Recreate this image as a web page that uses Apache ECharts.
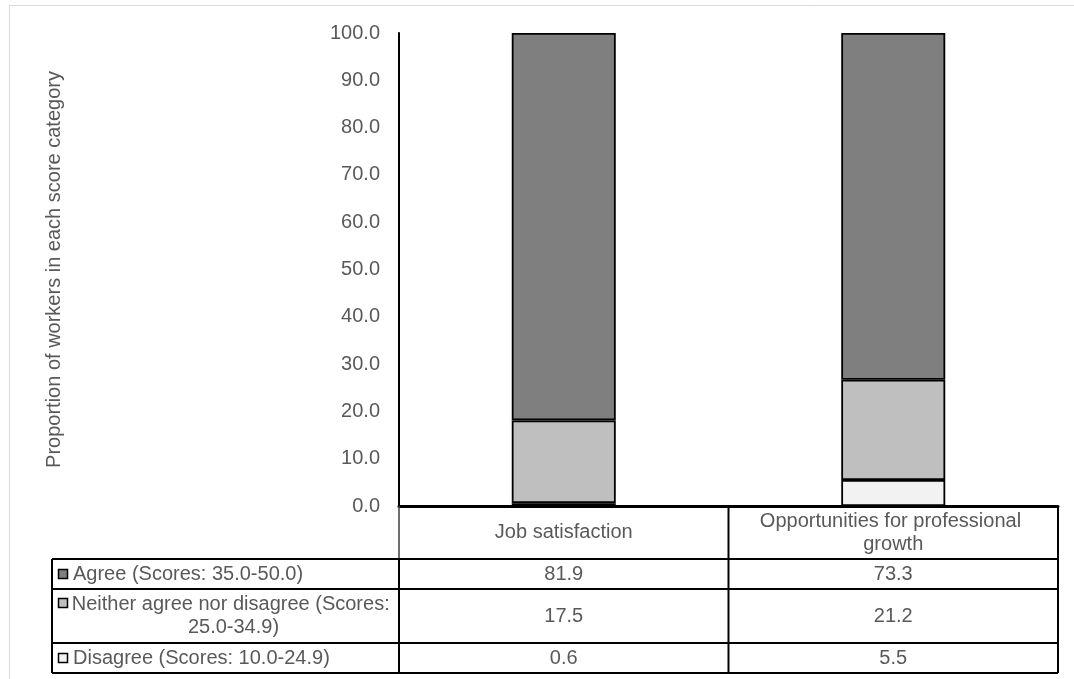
<!DOCTYPE html>
<html>
<head>
<meta charset="utf-8">
<script src="https://cdn.jsdelivr.net/npm/echarts@6/dist/echarts.min.js"></script>
<style>
  html, body { margin: 0; padding: 0; background: #ffffff; }
  #chart { width: 1074px; height: 679px; }
</style>
</head>
<body>
<div id="chart"></div>
<script>
// Categories along the x axis (also the data-table header)
const categories = ['Job satisfaction', 'Opportunities for professional growth'];

// Score groups, listed as they appear in the data table (top to bottom)
const seriesNames = [
  'Agree (Scores: 35.0-50.0)',
  'Neither agree nor disagree (Scores: 25.0-34.9)',
  'Disagree (Scores: 10.0-24.9)'
];

// Proportion of workers (%) in each score category
const agreeValues    = [81.9, 73.3];
const neitherValues  = [17.5, 21.2];
const disagreeValues = [0.6, 5.5];

// Value-axis ticks
const yTickMin = 0;
const yTickMax = 100;
const yTickStep = 10;

const yAxisTitle = 'Proportion of workers in each score category';

// Fill colours for each score group
const fills = ['#7f7f7f', '#bfbfbf', '#f2f2f2'];
const rowValues = [agreeValues, neitherValues, disagreeValues];

// Layout (pixels)
const FONT = '"Liberation Sans", Arial, sans-serif';
const TEXT = '#595959';
const plotLeft = 399, plotRight = 1058, plotTop = 33, axisY = 506;
const tableLeft = 52;
const rowEdges = [559, 589, 643, 673];   // bottom of header, then bottom of each row
const keyX = 58, labelX = 73, labelWrap = 325;

const chart = echarts.init(document.getElementById('chart'), null, { renderer: 'canvas' });

// stacking order from the baseline up: disagree, neither, agree
const stackOrder = [2, 1, 0];
const series = stackOrder.map(i => ({
  name: seriesNames[i],
  type: 'bar',
  stack: 'total',
  barWidth: 104,
  data: rowValues[i],
  itemStyle: { color: fills[i], borderColor: '#000000', borderWidth: 1.8 },
  emphasis: { disabled: true },
  animation: false
}));

chart.setOption({
  animation: false,
  grid: { left: plotLeft, right: 1074 - plotRight, top: plotTop, bottom: 679 - axisY, containLabel: false },
  xAxis: {
    type: 'category',
    data: categories,
    axisLine: { show: true, lineStyle: { color: '#000000', width: 3 } },
    axisTick: { show: false },
    axisLabel: { show: false },
    splitLine: { show: false }
  },
  yAxis: {
    type: 'value',
    min: yTickMin,
    max: yTickMax,
    interval: yTickStep,
    name: yAxisTitle,
    nameLocation: 'middle',
    nameGap: 335,
    nameTextStyle: { fontFamily: FONT, fontSize: 20, color: TEXT },
    axisLine: { show: true, lineStyle: { color: '#000000', width: 2 } },
    axisTick: { show: false },
    splitLine: { show: false },
    axisLabel: {
      fontFamily: FONT, fontSize: 20, color: TEXT, margin: 19,
      formatter: v => v.toFixed(1)
    }
  },
  series: series
});

// ---- Data table under the plot, drawn with graphic elements ----
const measure = document.createElement('canvas').getContext('2d');
measure.font = '20px ' + FONT;

function hline(y, x1, x2, w, c) {
  return { type: 'line', silent: true, z: 100,
    shape: { x1: x1, y1: y, x2: x2, y2: y },
    style: { stroke: c || '#000000', lineWidth: w || 2 } };
}
function vline(x, y1, y2, w, c) {
  return { type: 'line', silent: true, z: 100,
    shape: { x1: x, y1: y1, x2: x, y2: y2 },
    style: { stroke: c || '#000000', lineWidth: w || 2 } };
}
function cellText(str, x, y, align, width) {
  const st = {
    text: str, x: x, y: y, fill: TEXT, font: '20px ' + FONT,
    align: align || 'center', verticalAlign: 'middle', lineHeight: 23
  };
  if (width) { st.width = width; st.overflow = 'break'; }
  return { type: 'text', silent: true, z: 101, style: st };
}

const g = [];
// outer chart frame
g.push({ type: 'rect', silent: true, z: 0,
  shape: { x: 9.5, y: 5.5, width: 1200, height: 800 },
  style: { fill: 'none', stroke: '#d9d9d9', lineWidth: 1 } });

// column separators
const colEdges = [plotLeft, (plotLeft + plotRight) / 2, plotRight];
g.push(vline(colEdges[0], axisY, rowEdges[0], 1.5, '#3f3f3f'));
g.push(vline(colEdges[0], rowEdges[0], rowEdges[3]));
g.push(vline(colEdges[1], axisY, rowEdges[3]));
g.push(vline(colEdges[2], axisY, rowEdges[3]));
g.push(vline(tableLeft, rowEdges[0], rowEdges[3]));
// row separators
rowEdges.forEach(y => g.push(hline(y, tableLeft, plotRight)));

// header: category names centred under each bar
categories.forEach((c, i) => {
  const cx = chart.convertToPixel({ xAxisIndex: 0 }, i);
  g.push(cellText(c, cx, (axisY + rowEdges[0]) / 2, 'center', 310));
});

// rows: legend key, series label, values
const rowTops = [rowEdges[0], rowEdges[1], rowEdges[2]];
seriesNames.forEach((name, r) => {
  const top = rowTops[r], bottom = rowEdges[r + 1];
  const cy = (top + bottom) / 2;
  const wraps = measure.measureText(name).width > labelWrap;
  const firstLineY = wraps ? top + 14 : cy;
  g.push({ type: 'rect', silent: true, z: 101,
    shape: { x: keyX + 0.5, y: firstLineY - 4.5, width: 9, height: 9 },
    style: { fill: fills[r], stroke: '#000000', lineWidth: 1.5 } });
  if (wraps) {
    g.push(cellText(name, labelX + labelWrap / 2 - 2, cy, 'center', labelWrap));
  } else {
    g.push(cellText(name, labelX, cy, 'left'));
  }
  rowValues[r].forEach((v, i) => {
    const cx = chart.convertToPixel({ xAxisIndex: 0 }, i);
    g.push(cellText(v.toFixed(1), cx, cy, 'center'));
  });
});

chart.setOption({ graphic: { elements: g } });
</script>
</body>
</html>
